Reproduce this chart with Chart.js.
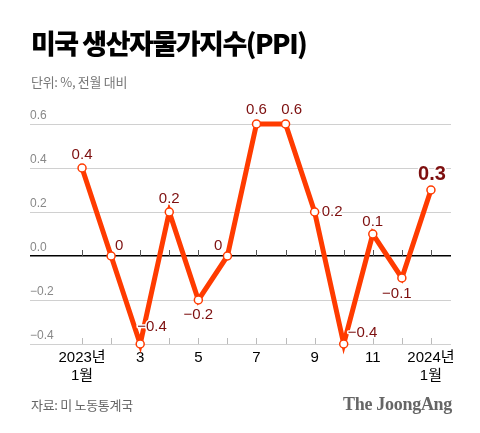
<!DOCTYPE html>
<html>
<head>
<meta charset="utf-8">
<script src="https://cdn.jsdelivr.net/npm/chart.js@4.4.1/dist/chart.umd.min.js"></script>
<style>
  html, body { margin: 0; padding: 0; background: #fff; }
  #wrap { position: relative; width: 480px; height: 433px; overflow: hidden; }
  #c { position: absolute; left: 0; top: 0; }
  .t { position: absolute; white-space: nowrap; }
  #title { left: 31px; top: 24px; font: 900 27px "Noto Sans CJK KR", sans-serif; letter-spacing: -1.5px; color: #000; line-height: 38px; }
  #sub { left: 31px; top: 73px; font: 400 13px "Noto Sans CJK KR", sans-serif; color: #777; line-height: 18px; letter-spacing: -0.3px; }
  #src { left: 31px; top: 396px; font: 400 13px "Noto Sans CJK KR", sans-serif; color: #666; line-height: 18px; letter-spacing: -0.3px; }
  #brand { right: 28px; top: 393px; font: 700 18px "Liberation Serif", "DejaVu Serif", serif; color: #666; line-height: 22px; letter-spacing: -0.3px; }
</style>
</head>
<body>
<div id="wrap">
  <canvas id="c" width="480" height="433"></canvas>
  <div class="t" id="title">미국 생산자물가지수(PPI)</div>
  <div class="t" id="sub">단위: %, 전월 대비</div>
  <div class="t" id="src">자료: 미 노동통계국</div>
  <div class="t" id="brand">The JoongAng</div>
</div>
<script>
// ---- data ----
const categories = ['2023년 1월','2월','3월','4월','5월','6월','7월','8월','9월','10월','11월','12월','2024년 1월'];
const ppiValues = [0.4, 0, -0.4, 0.2, -0.2, 0, 0.6, 0.6, 0.2, -0.4, 0.1, -0.1, 0.3];
const dataLabels = ['0.4','0','−0.4','0.2','−0.2','0','0.6','0.6','0.2','−0.4','0.1','−0.1','0.3'];
const xTickLabels = [['2023년','1월'], '', '3', '', '5', '', '7', '', '9', '', '11', '', ['2024년','1월']];
const yTickValues = [-0.4, -0.2, 0, 0.2, 0.4, 0.6];

// label placement (style only): [align, dx, dy]
const labelPlacement = [
  ['center', 0, -13], ['left', 4, -10], ['left', -3, -17], ['center', 0, -13],
  ['center', 0, 15], ['right', -5, -10], ['center', 0, -14], ['center', 6, -14],
  ['left', 7, 0], ['left', 4, -11], ['center', 0, -12], ['center', -5, 16],
  ['center', 1, -16]
];

const LINE = '#ff3b00';
const LABEL = '#7d0f0f';

const points = ppiValues.map((v, i) => ({ x: i, y: v }));

const tickMarks = {
  id: 'tickMarks',
  beforeDatasetsDraw(chart) {
    const { ctx, scales: { x, y } } = chart;
    const y0 = y.getPixelForValue(0);
    const yb = y.getPixelForValue(yTickValues[0]);
    ctx.save();
    ctx.lineWidth = 1;
    for (let i = 0; i < categories.length; i++) {
      const px = Math.round(x.getPixelForValue(i)) + 0.5;
      ctx.strokeStyle = '#555';
      ctx.beginPath(); ctx.moveTo(px, y0 - 6); ctx.lineTo(px, y0); ctx.stroke();
      ctx.strokeStyle = '#bbb';
      ctx.beginPath(); ctx.moveTo(px, yb - 6); ctx.lineTo(px, yb); ctx.stroke();
    }
    ctx.restore();
  }
};

const valueLabels = {
  id: 'valueLabels',
  afterDatasetsDraw(chart) {
    const { ctx } = chart;
    const meta = chart.getDatasetMeta(0);
    ctx.save();
    ctx.textBaseline = 'middle';
    meta.data.forEach((pt, i) => {
      const [align, dx, dy] = labelPlacement[i];
      const last = i === meta.data.length - 1;
      ctx.font = last ? 'bold 20px "Liberation Sans", Arial, sans-serif' : '15px "Liberation Sans", Arial, sans-serif';
      ctx.textAlign = align;
      ctx.lineJoin = 'round';
      ctx.lineWidth = 3;
      ctx.strokeStyle = '#fff';
      ctx.strokeText(dataLabels[i], pt.x + dx, pt.y + dy);
      ctx.fillStyle = LABEL;
      ctx.fillText(dataLabels[i], pt.x + dx, pt.y + dy);
    });
    ctx.restore();
  }
};

new Chart(document.getElementById('c'), {
  type: 'line',
  data: {
    datasets: [{
      label: '미국 생산자물가지수(PPI)',
      data: points,
      borderColor: LINE,
      borderWidth: 5,
      tension: 0,
      pointRadius: 4,
      pointBackgroundColor: '#fff',
      pointBorderColor: LINE,
      pointBorderWidth: 1.5,
      clip: false
    }]
  },
  options: {
    responsive: false,
    animation: false,
    events: [],
    layout: { padding: { left: 30, right: 29, top: 124, bottom: 39 } },
    plugins: { legend: { display: false }, tooltip: { enabled: false } },
    scales: {
      x: {
        type: 'linear',
        min: -1.79,
        max: 12.69,
        afterBuildTicks(scale) { scale.ticks = categories.map((_, i) => ({ value: i })); },
        afterFit(scale) { scale.height = 50; },
        grid: { display: false, drawTicks: false },
        border: { display: false },
        ticks: {
          autoSkip: false,
          maxRotation: 0,
          padding: 5,
          color: '#000',
          font: { family: '"Liberation Sans", "Noto Sans CJK KR", sans-serif', size: 15, lineHeight: 1.2 },
          callback: (v, i) => xTickLabels[i]
        }
      },
      y: {
        min: -0.4,
        max: 0.6,
        afterBuildTicks(scale) { scale.ticks = yTickValues.map(v => ({ value: v })); },
        afterFit(scale) { scale.width = 0; },
        grid: {
          drawTicks: false,
          color: ctx => Math.abs(ctx.tick.value) < 1e-9 ? '#000' : '#d0d0d0',
          lineWidth: ctx => Math.abs(ctx.tick.value) < 1e-9 ? 1.5 : 1
        },
        border: { display: false },
        ticks: {
          mirror: true,
          padding: 0,
          labelOffset: -8,
          color: '#888',
          font: { family: '"Liberation Sans", Arial, sans-serif', size: 12 },
          callback: v => (v < -1e-9 ? '−' : '') + Math.abs(v).toFixed(1)
        }
      }
    }
  },
  plugins: [tickMarks, valueLabels]
});
</script>
</body>
</html>
